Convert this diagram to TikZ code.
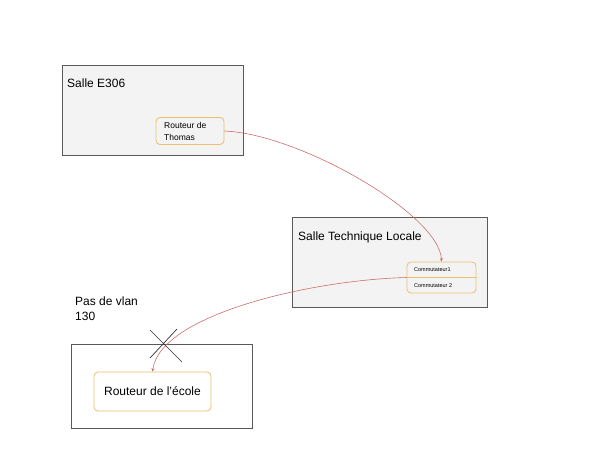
\documentclass[tikz,border=0pt]{standalone}
\usepackage{fontspec}
\setmainfont{Liberation Sans}
\usepackage{xcolor}
\usepackage{tikz}
\usetikzlibrary{arrows.meta}
\definecolor{roomgray}{RGB}{243,243,243}
\definecolor{roomline}{RGB}{89,89,89}
\definecolor{devline}{RGB}{236,190,110}
\definecolor{linkred}{RGB}{204,110,110}

\begin{document}
\begin{tikzpicture}[x=1pt, y=-1pt, room/.style ={rectangle, draw = roomline, fill = roomgray, line width = 0.9pt, inner sep = 0pt}, dev/.style={rectangle, rounded corners = 4pt, draw = devline, fill = white, line width = 0.8pt, inner sep = 0pt}, title/.style={anchor = base west, inner sep = 0pt, font = \fontsize{12}{15}\selectfont}, link/.style={draw = linkred, line width = 0.6pt, -{Stealth[length = 3.5pt, width = 3pt]}}]
\useasboundingbox (0,0) rectangle (600,450);
% rooms
\node[room, minimum width = 181pt, minimum height = 90pt] (E306) at (152.5,110) {};
\node[room, minimum width = 195pt, minimum height = 90pt] (STL) at (389.5,262) {};
\node[room, fill = white, minimum width = 181pt, minimum height = 84pt] (ecole) at (161.5,386) {};
\node[title] (tE306) at (67,87) {Salle E306};
\node[title] (tSTL) at (298,240) {Salle Technique Locale};
\node[title, align = left] (vlan) at (75,320) {Pas de vlan\\130};
% devices
\node[dev, minimum width = 68pt, minimum height = 27pt, fill = roomgray] (thomas) at (190,131) {};
\node[anchor = north west, inner sep = 0pt, align = left, font = \fontsize{8.5}{12}\selectfont] (tthomas) at (164,122) {Routeur de\\Thomas};
\node[dev, minimum width = 69pt, minimum height = 31pt, fill = roomgray] (sw) at (441.5,277.5) {};
\draw[devline, line width = 0.6pt] (sw.west) -- (sw.east);
\node[anchor = west, inner sep = 0pt, font = \fontsize{5.5}{7}\selectfont] (sw1) at (414,270) {Commutateur1};
\node[anchor = west, inner sep = 0pt, font = \fontsize{5.5}{7}\selectfont] (sw2) at (414,285.5) {Commutateur 2};
\node[dev, minimum width = 117pt, minimum height = 39pt] (rEcole) at (152.5,391.5) {\fontsize{12}{15}\selectfont Routeur de l’école};
% links
\draw[link] (thomas.east) .. controls (300,134) and (440,215) .. (sw.north);
\draw[link] (sw.west) .. controls (310,280) and (160,315) .. (rEcole.north);
% blocked
\coordinate (x1) at (150,330);
\coordinate (x2) at (182,362);
\coordinate (x3) at (177,329);
\coordinate (x4) at (150,358);
\draw[black!80, line width = 0.7pt] (x1) -- (x2) (x3) -- (x4);
\end{tikzpicture}
\end{document}
